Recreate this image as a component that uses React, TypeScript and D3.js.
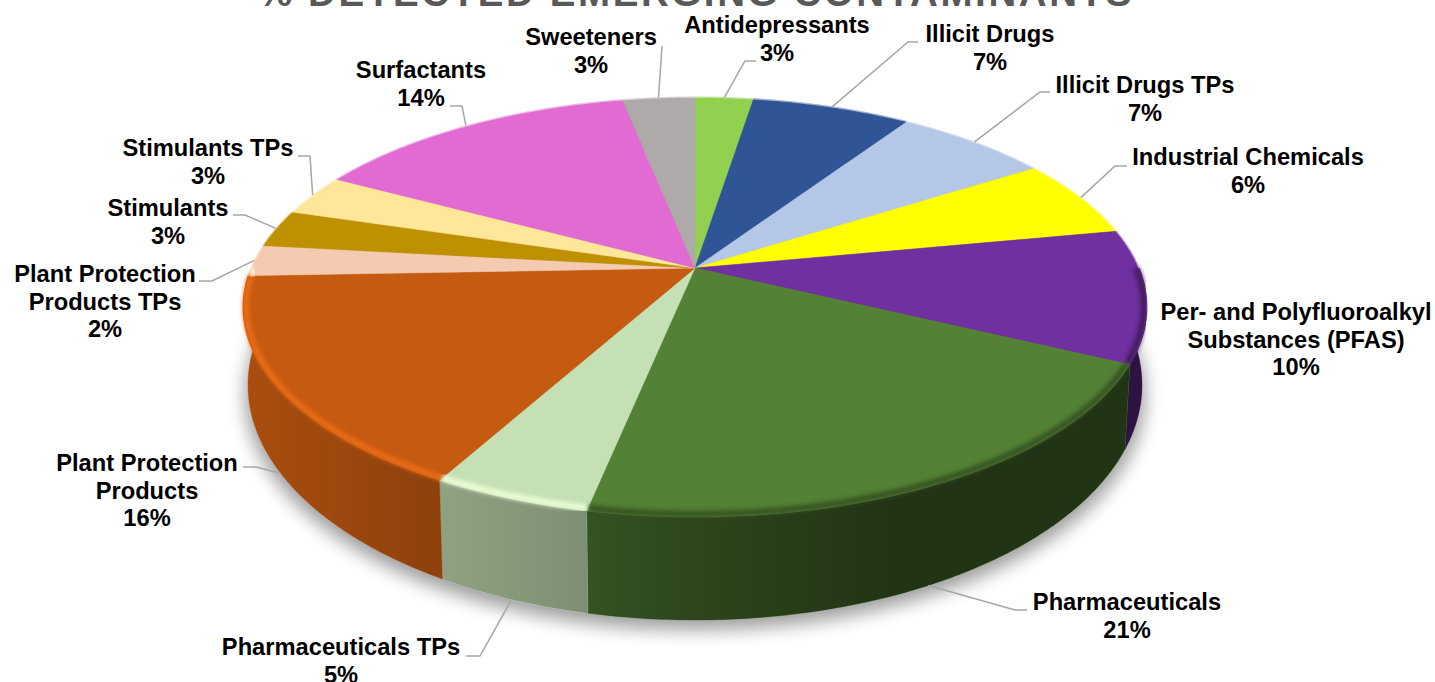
import React from "react";
import * as d3 from "d3";

// Share of detected emerging contaminants, in percent, clockwise from 12 o'clock.
// Labels show these rounded to whole percent.
const categories = [
  "Antidepressants", "Illicit Drugs", "Illicit Drugs TPs", "Industrial Chemicals",
  "Per- and Polyfluoroalkyl Substances (PFAS)", "Pharmaceuticals", "Pharmaceuticals TPs",
  "Plant Protection Products", "Plant Protection Products TPs", "Stimulants",
  "Stimulants TPs", "Surfactants", "Sweeteners",
];
const shares = [2.5, 6.8, 6.6, 6.1, 10.2, 21.0, 4.8, 16.4, 2.4, 2.9, 3.2, 14.0, 3.1];
const palette = [
  "#92d050", "#2f5597", "#b4c7e7", "#ffff00", "#7030a0", "#538135", "#c5e0b4",
  "#c55a11", "#f4cbb0", "#bf9000", "#ffe699", "#e16bd3", "#aeaaaa",
];

// Label text is broken onto lines by hand, the way the chart sets it.
const labelLines = [
  ["Antidepressants"], ["Illicit Drugs"], ["Illicit Drugs TPs"], ["Industrial Chemicals"],
  ["Per- and Polyfluoroalkyl", "Substances (PFAS)"], ["Pharmaceuticals"], ["Pharmaceuticals TPs"],
  ["Plant Protection", "Products"], ["Plant Protection", "Products TPs"], ["Stimulants"],
  ["Stimulants TPs"], ["Surfactants"], ["Sweeteners"],
];

// Label centre x, first baseline, and the leader's start and elbow.
const labelLayout = [
  { x: 777, y: 33, from: [756, 61], elbow: [745, 61] },
  { x: 990, y: 42, from: [918, 42], elbow: [908, 42] },
  { x: 1145, y: 93, from: [1050, 92], elbow: [1040, 92] },
  { x: 1248, y: 165, from: [1127, 166], elbow: [1115, 166] },
  { x: 1296, y: 320, from: null, elbow: null },
  { x: 1127, y: 610, from: [1027, 610], elbow: [1015, 610] },
  { x: 341, y: 655, from: [466, 656], elbow: [480, 656] },
  { x: 147, y: 471, from: [243, 467], elbow: [256, 467] },
  { x: 105, y: 282, from: [199, 281], elbow: [212, 281] },
  { x: 168, y: 216, from: [233, 215], elbow: [245, 215] },
  { x: 208, y: 156, from: [298, 156], elbow: [310, 156] },
  { x: 421, y: 78, from: [450, 106], elbow: [462, 106] },
  { x: 591, y: 45, from: [662, 46], elbow: [662, 46] },
];

const titleText = "% DETECTED EMERGING CONTAMINANTS";

// Perspective of the disc: rim level and base level share a foreshortening factor.
const CX = 695;
const TILT = 0.1857;
const rimLevel = { y: 268, a: 444.1, b: 202.8 };
const baseLevel = { y: 341.4, a: 439.2, b: 226.9 };
// The lit band sits a little inside the rim.
const lipLevel = { y: 268, a: 441.1, b: 200.3 };
type Level = typeof rimLevel;

function project(level: Level, angle: number): [number, number] {
  const u = Math.sin(angle);
  const v = -Math.cos(angle);
  const d = 1 - TILT * v;
  return [CX + (level.a * u) / d, level.y + (level.b * v) / d];
}

function sampleAngles(a0: number, a1: number) {
  const n = Math.max(2, Math.ceil(Math.abs(a1 - a0) / 0.01));
  const s = d3.scaleLinear().domain([0, n]).range([a0, a1]);
  return d3.range(n + 1).map((i) => s(i));
}

const pathOf = d3.line();
const slices = d3.pie<number>().sort(null).value((d) => d)(shares);
const percent = d3.format(".0f");

// Front rim highlight: lit on the left of the disc, falling into shade on the right.
const bevelTone = d3.scaleLinear().domain([250, 600, 760, 1140]).range([0.5, 0.5, -1, -1.6]).clamp(true);

export default function App() {
  return (
    <svg
      width={1435}
      height={682}
      viewBox="0 0 1435 682"
      style={{ position: "fixed", left: 0, top: 0, display: "block", background: "#fff" }}
      fontFamily="'Liberation Sans', Arial, sans-serif"
    >
      <defs>
        <filter id="dropShadow" x="-10%" y="-10%" width="120%" height="120%">
          <feGaussianBlur stdDeviation="9" />
        </filter>
        <filter id="rimBlur" x="-10%" y="-10%" width="120%" height="120%">
          <feGaussianBlur stdDeviation="1.9" />
        </filter>
        <linearGradient id="wallShade" gradientUnits="userSpaceOnUse" x1={243} x2={1147} y1={0} y2={0}>
          <stop offset="0" stopColor="#000" stopOpacity={0.14} />
          <stop offset="0.2" stopColor="#000" stopOpacity={0.27} />
          <stop offset="0.38" stopColor="#000" stopOpacity={0.36} />
          <stop offset="0.5" stopColor="#000" stopOpacity={0.46} />
          <stop offset="0.72" stopColor="#000" stopOpacity={0.6} />
          <stop offset="1" stopColor="#000" stopOpacity={0.6} />
        </linearGradient>
      </defs>

      <text
        x={696}
        y={5.5}
        textAnchor="middle"
        fontSize={38.5}
        fontWeight={700}
        letterSpacing={2.6}
        fill="#595959"
      >
        {titleText}
      </text>

      <ellipse cx={CX} cy={395} rx={450} ry={235} fill="#000" opacity={0.38} filter="url(#dropShadow)" />

      {/* Side wall of the disc */}
      {slices.map((s, i) => {
        const angles = sampleAngles(s.startAngle, s.endAngle);
        const outline = [
          ...angles.map((a) => project(rimLevel, a)),
          ...angles.slice().reverse().map((a) => project(baseLevel, a)),
        ];
        const d = pathOf(outline) + "Z";
        return (
          <g key={categories[i]}>
            <path d={d} fill={palette[i]} stroke={palette[i]} strokeWidth={0.5} />
            <path d={d} fill="url(#wallShade)" />
          </g>
        );
      })}

      {/* Top face */}
      {slices.map((s, i) => {
        const rim = sampleAngles(s.startAngle, s.endAngle).map((a) => project(rimLevel, a));
        const d = pathOf([[CX, rimLevel.y], ...rim]) + "Z";
        return <path key={categories[i]} d={d} fill={palette[i]} stroke={palette[i]} strokeWidth={0.5} />;
      })}

      {/* Soft edge where the top face rolls over into the wall */}
      {slices.map((s, i) => {
        const a0 = Math.max(s.startAngle, Math.PI / 2);
        const a1 = Math.min(s.endAngle, (3 * Math.PI) / 2);
        if (a1 <= a0) return null;
        const angles = sampleAngles(a0, a1);
        const mid = project(rimLevel, (a0 + a1) / 2)[0];
        const tone = bevelTone(mid);
        const c = d3.color(palette[i]) as d3.RGBColor;
        return (
          <path
            key={categories[i]}
            d={pathOf(angles.map((a) => project(lipLevel, a))) as string}
            fill="none"
            stroke={(tone >= 0 ? c.brighter(tone) : c.darker(-tone)).formatHex()}
            strokeWidth={6}
            filter="url(#rimBlur)"
          />
        );
      })}

      {/* Pale lip along the back of the disc */}
      <path
        d={pathOf(sampleAngles(-Math.PI / 2, Math.PI / 2).map((a) => project(rimLevel, a))) as string}
        fill="none"
        stroke="#fff"
        strokeOpacity={0.55}
        strokeWidth={1.5}
      />

      {/* Leaders and labels */}
      {slices.map((s, i) => {
        const place = labelLayout[i];
        const mid = (s.startAngle + s.endAngle) / 2;
        const front = Math.cos(mid) < 0;
        const anchor = project(front ? baseLevel : rimLevel, mid);
        const lines = labelLines[i];
        const pct = `${percent(shares[i])}%`;
        const lineGap = 27.7;
        return (
          <g key={categories[i]}>
            {place.from && (
              <path
                d={pathOf([place.from as [number, number], place.elbow as [number, number], anchor]) as string}
                fill="none"
                stroke="#a6a6a6"
                strokeWidth={1.5}
              />
            )}
            <text textAnchor="middle" fontSize={23.7} fontWeight={700} fill="#000">
              {[...lines, pct].map((t, j) => (
                <tspan key={j} x={place.x} y={place.y + j * lineGap}>
                  {t}
                </tspan>
              ))}
            </text>
          </g>
        );
      })}
    </svg>
  );
}
